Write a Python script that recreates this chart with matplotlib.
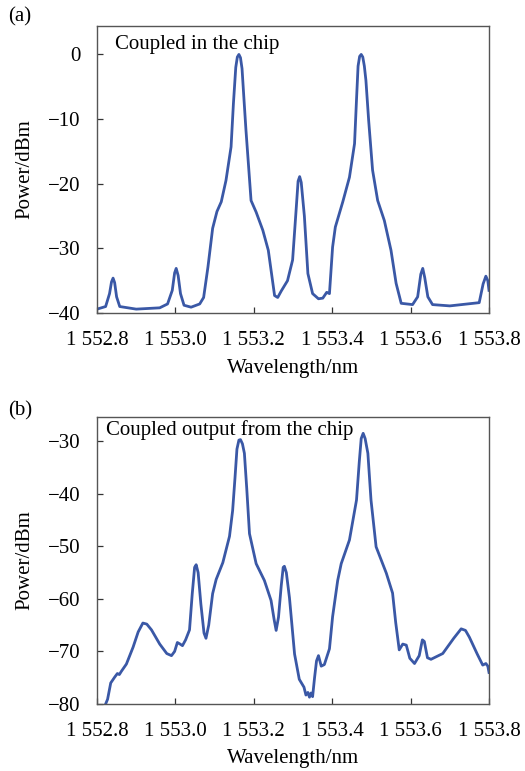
import matplotlib
matplotlib.use("Agg")
import matplotlib.pyplot as plt

plt.rcParams['font.family'] = ['Liberation Serif', 'DejaVu Serif']

# panel (a): coupled in the chip
wl_a = [1552.800, 1552.822, 1552.832, 1552.837, 1552.841, 1552.845, 1552.850, 1552.858,
        1552.900, 1552.960, 1552.980, 1552.992, 1552.998, 1553.002, 1553.007, 1553.013,
        1553.022, 1553.040, 1553.062, 1553.072, 1553.083, 1553.095, 1553.106, 1553.117,
        1553.129, 1553.142, 1553.148, 1553.154, 1553.158, 1553.162, 1553.166, 1553.170,
        1553.175, 1553.180, 1553.193, 1553.206, 1553.223, 1553.237, 1553.253, 1553.261,
        1553.270, 1553.286, 1553.299, 1553.308, 1553.313, 1553.317, 1553.321, 1553.329,
        1553.338, 1553.350, 1553.365, 1553.376, 1553.386, 1553.393, 1553.401, 1553.408,
        1553.427, 1553.444, 1553.457, 1553.462, 1553.466, 1553.470, 1553.474, 1553.478,
        1553.482, 1553.486, 1553.493, 1553.503, 1553.516, 1553.533, 1553.550, 1553.563,
        1553.576, 1553.605, 1553.618, 1553.626, 1553.631, 1553.636, 1553.644, 1553.656,
        1553.700, 1553.775, 1553.785, 1553.792, 1553.797, 1553.800]
pw_a = [-39.4, -39.0, -37.0, -35.2, -34.6, -35.3, -37.5, -39.0,
        -39.4, -39.2, -38.6, -36.5, -33.8, -33.1, -34.2, -37.0,
        -38.8, -39.1, -38.6, -37.6, -32.9, -26.9, -24.3, -22.8,
        -19.5, -14.3, -7.6, -2.0, -0.4, 0.0, -0.5, -2.2,
        -7.0, -11.7, -22.6, -24.4, -27.2, -30.3, -37.3, -37.6,
        -36.6, -35.0, -31.8, -24.0, -19.6, -18.9, -19.8, -25.0,
        -33.9, -37.0, -37.8, -37.7, -36.8, -37.0, -29.8, -26.7,
        -22.8, -19.0, -13.8, -7.0, -1.8, -0.3, 0.0, -0.4,
        -1.8, -4.0, -10.2, -17.9, -22.6, -25.7, -30.3, -35.4,
        -38.5, -38.7, -37.5, -34.0, -33.1, -34.5, -37.5, -38.7,
        -38.9, -38.4, -35.5, -34.3, -35.0, -36.5]

# panel (b): coupled output from the chip
wl_b = [1552.822, 1552.827, 1552.835, 1552.845, 1552.852, 1552.857, 1552.862, 1552.875,
        1552.892, 1552.905, 1552.917, 1552.927, 1552.939, 1552.960, 1552.978, 1552.990,
        1552.998, 1553.005, 1553.012, 1553.018, 1553.026, 1553.036, 1553.043, 1553.049,
        1553.053, 1553.058, 1553.065, 1553.073, 1553.078, 1553.085, 1553.095, 1553.104,
        1553.121, 1553.138, 1553.146, 1553.152, 1553.157, 1553.162, 1553.166, 1553.171,
        1553.176, 1553.182, 1553.189, 1553.206, 1553.227, 1553.244, 1553.252, 1553.257,
        1553.263, 1553.270, 1553.275, 1553.278, 1553.283, 1553.291, 1553.304, 1553.316,
        1553.328, 1553.333, 1553.338, 1553.342, 1553.346, 1553.350, 1553.355, 1553.360,
        1553.365, 1553.372, 1553.380, 1553.393, 1553.401, 1553.414, 1553.423, 1553.444,
        1553.462, 1553.469, 1553.474, 1553.479, 1553.484, 1553.491, 1553.499, 1553.512,
        1553.538, 1553.554, 1553.562, 1553.571, 1553.580, 1553.589, 1553.598, 1553.610,
        1553.622, 1553.630, 1553.635, 1553.643, 1553.652, 1553.682, 1553.710, 1553.729,
        1553.740, 1553.750, 1553.770, 1553.784, 1553.792, 1553.797, 1553.800]
pw_b = [-80.0, -79.1, -76.0, -74.9, -74.2, -74.4, -73.8, -72.4,
        -69.2, -66.3, -64.6, -64.8, -65.9, -68.6, -70.4, -70.8,
        -70.0, -68.3, -68.6, -68.9, -67.8, -65.9, -59.0, -54.0,
        -53.5, -55.0, -61.0, -66.5, -67.5, -65.0, -59.0, -56.3,
        -53.1, -48.1, -43.2, -37.0, -31.5, -29.8, -29.7, -30.5,
        -32.3, -39.0, -47.6, -53.3, -56.5, -60.3, -64.0, -66.0,
        -63.5, -57.5, -54.0, -53.8, -55.0, -59.8, -70.5, -75.3,
        -76.8, -78.3, -77.8, -78.7, -77.9, -78.6, -75.0, -71.8,
        -70.8, -72.8, -72.5, -69.5, -63.4, -56.5, -53.3, -48.8,
        -41.2, -34.0, -29.5, -28.5, -29.5, -32.3, -41.2, -50.1,
        -55.1, -58.9, -64.5, -69.7, -68.6, -68.8, -71.3, -72.3,
        -70.8, -67.8, -68.1, -71.2, -71.5, -70.4, -67.5, -65.7,
        -66.0, -67.3, -70.5, -72.6, -72.3, -72.8, -74.0]

x_ticks = [1552.8, 1553.0, 1553.2, 1553.4, 1553.6, 1553.8]
x_labels = ["1 552.8", "1 553.0", "1 553.2", "1 553.4", "1 553.6", "1 553.8"]
y_ticks_a = [0, -10, -20, -30, -40]
y_ticks_b = [-30, -40, -50, -60, -70, -80]

W, H = 525, 771
line_color = "#3a58a6"
fs = 15


def px(x0, y0, x1, y1):
    # pixel box -> figure fraction rect
    return [x0 / W, 1 - y1 / H, (x1 - x0) / W, (y1 - y0) / H]


fig = plt.figure(figsize=(W / 100, H / 100), dpi=100)

panels = [
    (px(97, 26, 489, 313), wl_a, pw_a, y_ticks_a, (-40, 4.4), "(a)", 17,
     "Coupled in the chip", 115, 45, 368),
    (px(97, 417, 489, 704), wl_b, pw_b, y_ticks_b, (-80, -25.4), "(b)", 411,
     "Coupled output from the chip", 106, 430, 759),
]

for rect, xs, ys, yt, ylim, tag, tag_y, note, note_x, note_y, xl_y in panels:
    ax = fig.add_axes(rect)
    ax.plot(xs, ys, color=line_color, linewidth=2.0, solid_joinstyle="round")
    ax.set_xlim(1552.8, 1553.8)
    ax.set_ylim(*ylim)
    ax.set_xticks(x_ticks)
    ax.set_xticklabels(x_labels)
    ax.set_yticks(yt)
    ax.tick_params(direction="in", length=4, width=0.9, labelsize=fs,
                   color="#333333")
    ax.tick_params(axis="x", pad=13)
    ax.tick_params(axis="y", pad=12)
    for s in ax.spines.values():
        s.set_color("#555555")
        s.set_linewidth(1.0)
    y_mid = (1 - (rect[1] + rect[3] / 2)) * H
    fig.text(25 / W, 1 - y_mid / H, "Power/dBm", fontsize=fs, rotation=90,
             ha="center", va="center")
    fig.text(20 / W, 1 - tag_y / H, tag, fontsize=fs, ha="center", va="center")
    fig.text(note_x / W, 1 - note_y / H, note, fontsize=fs, ha="left", va="center")
    fig.text(293 / W, 1 - xl_y / H, "Wavelength/nm", fontsize=fs,
             ha="center", va="center")

fig.savefig("out.png", dpi=100)
